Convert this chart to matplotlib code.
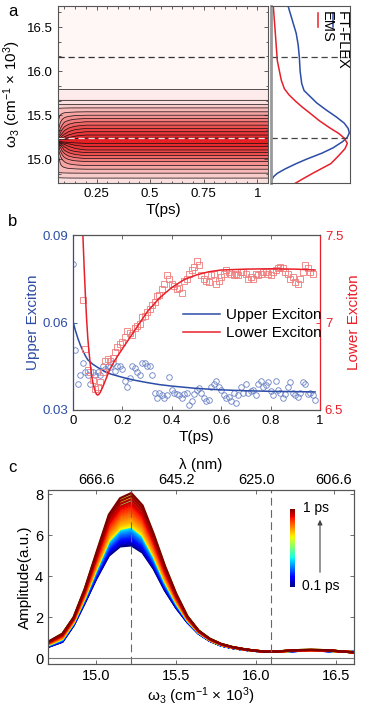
import numpy as np
import matplotlib
matplotlib.use("Agg")
import matplotlib.pyplot as plt
from matplotlib.colors import LinearSegmentedColormap
from matplotlib.ticker import MultipleLocator, AutoMinorLocator

plt.rcParams['font.family'] = ['Liberation Sans', 'DejaVu Sans']
plt.rcParams['mathtext.fontset'] = 'custom'
plt.rcParams['mathtext.rm'] = 'Liberation Sans'
plt.rcParams['mathtext.it'] = 'Liberation Sans:italic'
plt.rcParams['xtick.direction'] = 'in'
plt.rcParams['ytick.direction'] = 'in'

# ---------------- Panel a data ----------------
contour_w = [14.73, 14.786, 14.842, 14.887, 14.929, 14.974, 15.008, 15.041, 15.075, 15.105,
             15.143, 15.18, 15.21, 15.24, 15.275, 15.312, 15.35, 15.387, 15.425, 15.462,
             15.50, 15.538, 15.583, 15.62, 15.677, 15.80, 15.90, 16.00, 16.14, 16.30, 16.50, 16.74]
contour_profile = [0.15, 0.21, 0.28, 0.35, 0.42, 0.49, 0.56, 0.63, 0.70, 0.77,
                   0.84, 0.91, 1.00, 0.91, 0.84, 0.77, 0.70, 0.63, 0.56, 0.49,
                   0.42, 0.35, 0.28, 0.21, 0.14, 0.07, 0.058, 0.05, 0.045, 0.04, 0.035, 0.03]
early_T = [0.07, 0.075, 0.08, 0.09, 0.10, 0.12, 0.15, 0.20, 1.05]
early_strength = [1.0, 0.85, 0.7, 0.5, 0.35, 0.2, 0.08, 0.0, 0.0]
dip_w = [14.73, 14.85, 14.95, 15.05, 15.13, 15.17, 15.21, 15.25, 15.29, 15.37, 15.47, 15.55, 15.60, 16.74]
dip_v = [0, 0.01, 0.15, 0.32, 0.40, 0.33, 0.0, 0.30, 0.35, 0.30, 0.15, 0.02, 0, 0]
contour_levels = [0.07, 0.14, 0.21, 0.28, 0.35, 0.42, 0.49, 0.56, 0.63, 0.70, 0.77, 0.84, 0.91]

side_blue_w = [16.73, 16.58, 16.43, 16.30, 16.16, 16.00, 15.86, 15.78, 15.71, 15.64, 15.56, 15.48,
               15.41, 15.35, 15.30, 15.25, 15.20, 15.13, 15.07, 15.00, 14.95, 14.89, 14.84, 14.80, 14.76, 14.72]
side_blue = [0.22, 0.27, 0.32, 0.345, 0.36, 0.37, 0.39, 0.42, 0.50, 0.58, 0.70, 0.83,
             0.93, 0.98, 0.995, 0.97, 0.91, 0.79, 0.65, 0.45, 0.32, 0.18, 0.08, 0.03, 0.01, 0.0]
side_red_w = [16.73, 16.43, 16.12, 15.90, 15.80, 15.73, 15.66, 15.59, 15.52, 15.44, 15.36, 15.29,
              15.24, 15.18, 15.12, 15.05, 14.95, 14.84, 14.78, 14.72]
side_red = [0.03, 0.055, 0.08, 0.13, 0.17, 0.23, 0.31, 0.40, 0.50, 0.61, 0.74, 0.865,
            0.93, 0.97, 0.94, 0.87, 0.76, 0.53, 0.41, 0.295]

# ---------------- Panel b data ----------------
upper_T = [round(0.01 * i, 2) for i in range(99)]
upper_vals = [0.080, 0.0506, 0.039, 0.042, 0.046, 0.043, 0.042, 0.039, 0.043, 0.042,
              0.043, 0.042, 0.045, 0.044, 0.045, 0.0449, 0.046, 0.0435, 0.045, 0.045,
              0.044, 0.040, 0.038, 0.041, 0.045, 0.0445, 0.043, 0.042, 0.046, 0.046,
              0.045, 0.045, 0.042, 0.036, 0.034, 0.036, 0.035, 0.034, 0.035, 0.0414,
              0.037, 0.036, 0.0355, 0.035, 0.034, 0.0355, 0.036, 0.0317, 0.033, 0.0355,
              0.037, 0.0375, 0.036, 0.034, 0.033, 0.0335, 0.038, 0.039, 0.040, 0.038,
              0.037, 0.035, 0.034, 0.0345, 0.033, 0.036, 0.0325, 0.035, 0.038, 0.036,
              0.039, 0.036, 0.0365, 0.037, 0.035, 0.039, 0.040, 0.038, 0.0385, 0.0395,
              0.0365, 0.035, 0.040, 0.037, 0.036, 0.034, 0.0355, 0.038, 0.0395, 0.036,
              0.035, 0.0345, 0.036, 0.0395, 0.039, 0.0355, 0.036, 0.035, 0.0335]
lower_T = [round(0.01 * i, 2) for i in range(4, 98)]
lower_vals = [7.13, 6.85, 6.73, 6.72, 6.67, 6.62, 6.63, 6.66, 6.72, 6.78,
              6.79, 6.78, 6.80, 6.83, 6.86, 6.88, 6.89, 6.92, 6.95, 6.94,
              6.93, 6.97, 6.98, 6.99, 7.03, 7.04, 7.06, 7.08, 7.10, 7.12,
              7.15, 7.16, 7.19, 7.22, 7.27, 7.25, 7.22, 7.21, 7.19, 7.20,
              7.17, 7.24, 7.25, 7.28, 7.30, 7.32, 7.35, 7.33, 7.27, 7.25,
              7.24, 7.23, 7.27, 7.28, 7.22, 7.24, 7.26, 7.28, 7.30, 7.29,
              7.28, 7.27, 7.28, 7.27, 7.29, 7.29, 7.28, 7.25, 7.26, 7.25,
              7.28, 7.27, 7.28, 7.29, 7.29, 7.28, 7.27, 7.29, 7.30, 7.31,
              7.32, 7.31, 7.29, 7.28, 7.25, 7.26, 7.23, 7.22, 7.25, 7.29,
              7.33, 7.31, 7.29, 7.28]
upper_fit_T = [0, 0.01, 0.02, 0.03, 0.04, 0.05, 0.06, 0.08, 0.10, 0.125, 0.15, 0.2, 0.25, 0.3, 0.35,
               0.4, 0.5, 0.6, 0.7, 0.8, 0.9, 0.98]
upper_fit = [0.0603, 0.0572, 0.0545, 0.0522, 0.0503, 0.0486, 0.0472, 0.0457, 0.0446, 0.0434, 0.0424,
             0.0412, 0.0402, 0.0394, 0.0387, 0.0382, 0.0374, 0.0369, 0.0366, 0.0364, 0.0363, 0.0362]
lower_fit_T = [0.040, 0.045, 0.05, 0.055, 0.06, 0.065, 0.07, 0.075, 0.08, 0.085, 0.09, 0.095, 0.10,
               0.105, 0.11, 0.12, 0.13, 0.14, 0.15, 0.17, 0.2, 0.25, 0.3, 0.35, 0.4, 0.45, 0.5,
               0.55, 0.6, 0.7, 0.8, 0.9, 0.98]
lower_fit = [7.50, 7.32, 7.16, 7.02, 6.91, 6.83, 6.76, 6.70, 6.66, 6.63, 6.605, 6.59, 6.585,
             6.59, 6.60, 6.63, 6.665, 6.70, 6.735, 6.785, 6.85, 6.955, 7.06, 7.14, 7.20, 7.245, 7.272,
             7.29, 7.30, 7.305, 7.307, 7.305, 7.30]

# ---------------- Panel c data ----------------
spec_w = [14.70, 14.79, 14.86, 14.93, 15.00, 15.08, 15.15, 15.22, 15.29, 15.36, 15.43, 15.50,
          15.57, 15.64, 15.71, 15.78, 15.85, 15.92, 15.99, 16.06, 16.13, 16.20, 16.27, 16.34,
          16.41, 16.48, 16.55, 16.62]
spec_early = [0.55, 0.80, 1.6, 2.7, 3.85, 5.0, 5.45, 5.5, 5.15, 4.35, 3.3, 2.45,
              1.75, 1.2, 0.85, 0.62, 0.5, 0.42, 0.36, 0.33, 0.33, 0.34, 0.36, 0.37,
              0.36, 0.34, 0.32, 0.30]
spec_late = [0.80, 1.20, 2.0, 3.4, 5.1, 7.0, 7.8, 8.05, 7.45, 6.05, 4.5, 3.15,
             2.05, 1.35, 0.95, 0.70, 0.55, 0.45, 0.37, 0.32, 0.33, 0.37, 0.40, 0.41,
             0.40, 0.37, 0.32, 0.28]
curve_T = [round(0.10 + 0.02 * i, 2) for i in range(46)]
curve_peak = [5.50, 5.55, 5.60, 5.66, 5.72, 5.78, 5.84, 5.90, 5.96, 6.02, 6.08, 6.14, 6.20, 6.25,
              6.30, 6.34, 6.38, 6.9, 7.1, 7.3, 7.4, 7.5, 7.6, 7.7, 7.85, 7.95, 8.0, 7.9, 7.8,
              6.42, 6.48, 6.55, 6.62, 6.7, 6.8, 6.9, 7.0, 7.1, 7.2, 7.3, 7.4, 7.5, 7.6, 7.75, 7.9, 8.05]
lam_ticks = ["666.6", "645.2", "625.0", "606.6"]
lam_values = [666.6, 645.2, 625.0, 606.6]

BLUE = '#2c4ca6'
RED = '#e8202a'

fig = plt.figure(figsize=(3.65, 7.11), dpi=100)
W, H = 365, 711
def rect(l, t, r, b):
    return [l / W, 1 - b / H, (r - l) / W, (b - t) / H]

# ---------------- Panel a ----------------
ax_a = fig.add_axes(rect(58, 6, 268, 183))
Tg = np.linspace(0.07, 1.05, 300)
wg = np.linspace(14.73, 16.74, 400)
TT, WW = np.meshgrid(Tg, wg)
Z = np.interp(WW, contour_w, contour_profile) - np.interp(TT, early_T, early_strength) * np.interp(WW, dip_w, dip_v)
cmap_a = LinearSegmentedColormap.from_list('wr', [(0.0, (1.0, 0.965, 0.965)), (0.15, (0.985, 0.88, 0.88)),
                                                   (0.45, (0.96, 0.58, 0.58)), (0.7, (0.93, 0.30, 0.30)),
                                                   (1.0, (0.90, 0.12, 0.14))])
fill_levels = [-0.5] + contour_levels + [1.5]
ncol = len(fill_levels) - 1
cols = [cmap_a(i / (ncol - 1)) for i in range(ncol)]
ax_a.contourf(TT, WW, Z, levels=fill_levels, colors=cols)
ax_a.contour(TT, WW, Z, levels=contour_levels, colors='#111111', linewidths=0.5)
ax_a.axhline(16.16, color='#333333', ls=(0, (5, 3)), lw=0.9)
ax_a.axhline(15.24, color='#e8e8e8', ls=(0, (5, 3)), lw=0.9)
ax_a.set_xlim(0.07, 1.05)
ax_a.set_ylim(14.73, 16.74)
ax_a.set_xticks([0.25, 0.5, 0.75, 1.0])
ax_a.set_xticklabels(['0.25', '0.5', '0.75', '1'])
ax_a.set_yticks([15.0, 15.5, 16.0, 16.5])
ax_a.set_yticklabels(['15.0', '15.5', '16.0', '16.5'])
ax_a.xaxis.set_minor_locator(MultipleLocator(0.05))
ax_a.yaxis.set_minor_locator(AutoMinorLocator(3))
ax_a.tick_params(which='both', top=True, right=True, labelsize=9.5, length=3, width=0.6, color='#444444')
ax_a.tick_params(which='minor', length=1.8)
ax_a.set_xlabel('T(ps)', fontsize=11, labelpad=2)
ax_a.set_ylabel(r'ω$_3$ (cm$^{-1}$ × 10$^3$)', fontsize=11, labelpad=3)
for s in ax_a.spines.values():
    s.set_color('#555555'); s.set_linewidth(0.8)
fig.text(8 / W, 1 - 12 / H, 'a', fontsize=12, va='center', ha='left')

ax_s = fig.add_axes(rect(271, 6, 350.5, 183))
ax_s.plot(side_blue, side_blue_w, color=BLUE, lw=1.1)
ax_s.plot(side_red, side_red_w, color=RED, lw=1.1)
ax_s.axhline(16.16, color='#444444', ls=(0, (5, 3)), lw=0.9)
ax_s.axhline(15.24, color='#444444', ls=(0, (5, 3)), lw=0.9)
ax_s.set_xlim(0, 1.01)
ax_s.set_ylim(14.73, 16.74)
ax_s.set_xticks([]); ax_s.set_yticks([])
for s in ax_s.spines.values():
    s.set_color('#555555'); s.set_linewidth(0.8)
ax_s.spines['left'].set_color('#999999'); ax_s.spines['left'].set_linewidth(2.0)
ax_s.plot([0.79, 0.79], [16.66, 16.50], color=BLUE, lw=1.1)
ax_s.plot([0.60, 0.60], [16.66, 16.50], color=RED, lw=1.1)
ax_s.text(0.90, 16.68, 'FT-FLEX', rotation=-90, fontsize=10.5, va='top', ha='center')
ax_s.text(0.71, 16.68, 'EMS', rotation=-90, fontsize=10.5, va='top', ha='center')

# ---------------- Panel b ----------------
ax_b = fig.add_axes(rect(73, 235, 320, 410))
ax_b.plot(upper_T, upper_vals, 'o', mfc='none', mec='#6a82c6', ms=4.0, mew=0.6)
ln_u, = ax_b.plot(upper_fit_T, upper_fit, color=BLUE, lw=1.1, label='Upper Exciton')
ax_b.set_xlim(0, 1)
ax_b.set_ylim(0.03, 0.09)
ax_b.set_yticks([0.03, 0.06, 0.09])
ax_b.set_yticklabels(['0.03', '0.06', '0.09'])
ax_b.set_xticks([0, 0.2, 0.4, 0.6, 0.8, 1.0])
ax_b.set_xticklabels(['0', '0.2', '0.4', '0.6', '0.8', '1'])
ax_b.tick_params(axis='y', colors=BLUE, labelsize=9.5, length=3, width=0.6)
ax_b.tick_params(axis='x', top=True, labelsize=9.5, length=3, width=0.6, color='#555555')
ax_b.set_xlabel('T(ps)', fontsize=11, labelpad=2)
ax_b.set_ylabel('Upper Exciton', color=BLUE, fontsize=11, labelpad=2)
ax_r = ax_b.twinx()
ax_r.plot(lower_T, lower_vals, 's', mfc='none', mec='#f07a7a', ms=3.8, mew=0.6)
ln_l, = ax_r.plot(lower_fit_T, lower_fit, color=RED, lw=1.1, label='Lower Exciton')
ax_r.set_ylim(6.5, 7.5)
ax_r.set_yticks([6.5, 7.0, 7.5])
ax_r.set_yticklabels(['6.5', '7', '7.5'])
ax_r.tick_params(axis='y', colors=RED, labelsize=9.5, length=3, width=0.6)
ax_r.set_ylabel('Lower Exciton', color=RED, fontsize=11, labelpad=3)
ax_r.spines['left'].set_color(BLUE)
ax_r.spines['right'].set_color(RED)
ax_r.spines['top'].set_color('#555555')
ax_r.spines['bottom'].set_color('#555555')
for s in ax_r.spines.values():
    s.set_linewidth(0.8)
ax_r.legend(handles=[ln_u, ln_l], loc='center left', bbox_to_anchor=(0.42, 0.49), frameon=False,
            fontsize=11, handlelength=2.4, handletextpad=0.4, labelspacing=0.25, borderaxespad=0)
fig.text(8 / W, 1 - 222 / H, 'b', fontsize=12, va='center', ha='left')

# ---------------- Panel c ----------------
ax_c = fig.add_axes(rect(48, 490, 354, 664))
jet = plt.get_cmap('jet')
early = np.array(spec_early); late = np.array(spec_late)
for t, pk in zip(curve_T, curve_peak):
    frac = (pk - spec_early[7]) / (spec_late[7] - spec_early[7])
    ax_c.plot(spec_w, early + (late - early) * frac, color=jet((t - 0.1) / 0.9), lw=1.6)
ax_c.axvline(15.22, color='#666666', ls=(0, (7, 4)), lw=0.8)
ax_c.axvline(16.09, color='#666666', ls=(0, (7, 4)), lw=0.8)
ax_c.axhline(0, color='#777777', lw=0.8)
ax_c.set_xlim(14.70, 16.61)
ax_c.set_ylim(-0.28, 8.2)
ax_c.set_xticks([15.0, 15.5, 16.0, 16.5])
ax_c.set_xticklabels(['15.0', '15.5', '16.0', '16.5'])
ax_c.set_yticks([0, 2, 4, 6, 8])
ax_c.tick_params(which='both', right=True, labelsize=10.5, length=3, width=0.6, color='#555555')
ax_c.set_xlabel(r'ω$_3$ (cm$^{-1}$ × 10$^3$)', fontsize=11, labelpad=2)
ax_c.set_ylabel('Amplitude(a.u.)', fontsize=11, labelpad=2)
for s in ax_c.spines.values():
    s.set_color('#555555'); s.set_linewidth(0.8)
ax_t = ax_c.twiny()
ax_t.set_xlim(ax_c.get_xlim())
ax_t.set_xticks([1e4 / v for v in lam_values])
ax_t.set_xticklabels(lam_ticks)
ax_t.tick_params(labelsize=10.5, length=3, width=0.6, color='#555555', pad=2)
ax_t.set_xlabel('λ (nm)', fontsize=11, labelpad=3)
for s in ax_t.spines.values():
    s.set_color('#555555'); s.set_linewidth(0.8)
fig.text(8 / W, 1 - 468 / H, 'c', fontsize=12, va='center', ha='left')

cax = fig.add_axes(rect(290, 509, 295, 587))
cax.imshow(np.linspace(1, 0, 100).reshape(-1, 1), cmap='jet', aspect='auto')
cax.set_xticks([]); cax.set_yticks([])
for s in cax.spines.values():
    s.set_visible(False)
fig.text(303 / W, 1 - 508 / H, '1 ps', fontsize=10, va='center', ha='left')
fig.text(302 / W, 1 - 586 / H, '0.1 ps', fontsize=10, va='center', ha='left')
fig.add_artist(matplotlib.patches.FancyArrowPatch((320 / W, 1 - 575 / H), (320 / W, 1 - 517 / H),
               transform=fig.transFigure, arrowstyle='-|>', mutation_scale=7, color='#444444', lw=0.8))

fig.savefig('out.png', dpi=100)
